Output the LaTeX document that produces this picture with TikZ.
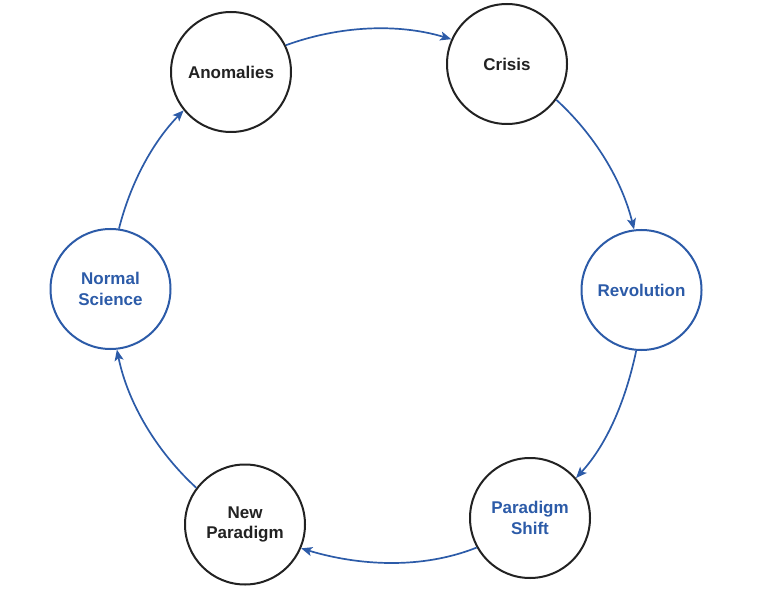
\documentclass[tikz,border=0pt]{standalone}
\usepackage{fontspec}
\setmainfont{Liberation Sans}
\usetikzlibrary{arrows.meta}
\definecolor{cblue}{HTML}{2C5BA8}
\definecolor{cdark}{HTML}{222222}
\tikzset{
  stage/.style={circle, draw=cdark, line width=2pt, minimum size=120pt, inner sep=0pt,
    align=center, text=cdark, font=\fontsize{17}{20.5}\selectfont\bfseries},
  bluestage/.style={stage, draw=cblue, text=cblue},
  bluetext/.style={stage, text=cblue},
  flow/.style={draw=cblue, line width=1.7pt, -{Stealth[length=11pt,width=9pt,inset=2.5pt]}, looseness=0.87}
}
\begin{document}
\begin{tikzpicture}[x=1pt,y=1pt]
\useasboundingbox (0,0) rectangle (762,614);
\node[stage] (anom) at (231,542) {Anomalies};
\node[stage] (crisis) at (507,550) {Crisis};
\node[bluestage] (rev) at (641.5,324) {Revolution};
\node[bluetext] (shift) at (530,96) {Paradigm\\Shift};
\node[stage] (newp) at (245,89.5) {New\\Paradigm};
\node[bluestage] (norm) at (110.5,325) {Normal\\Science};
\draw[flow] (anom.26.5) to[out=20.1,in=163.3] (crisis.156.9);
\draw[flow] (crisis.-36.1) to[out=-42.5,in=103.9] (rev.97.5);
\draw[flow] (rev.-95.5) to[out=-101.9,in=47.5] (shift.41.1);
\draw[flow] (shift.-151.9) to[out=-158.3,in=-16.8] (newp.-23.2);
\draw[flow] (newp.143.8) to[out=137.4,in=-78.4] (norm.-84.8);
\draw[flow] (norm.82.2) to[out=75.8,in=225.9] (anom.219.5);
\end{tikzpicture}
\end{document}
